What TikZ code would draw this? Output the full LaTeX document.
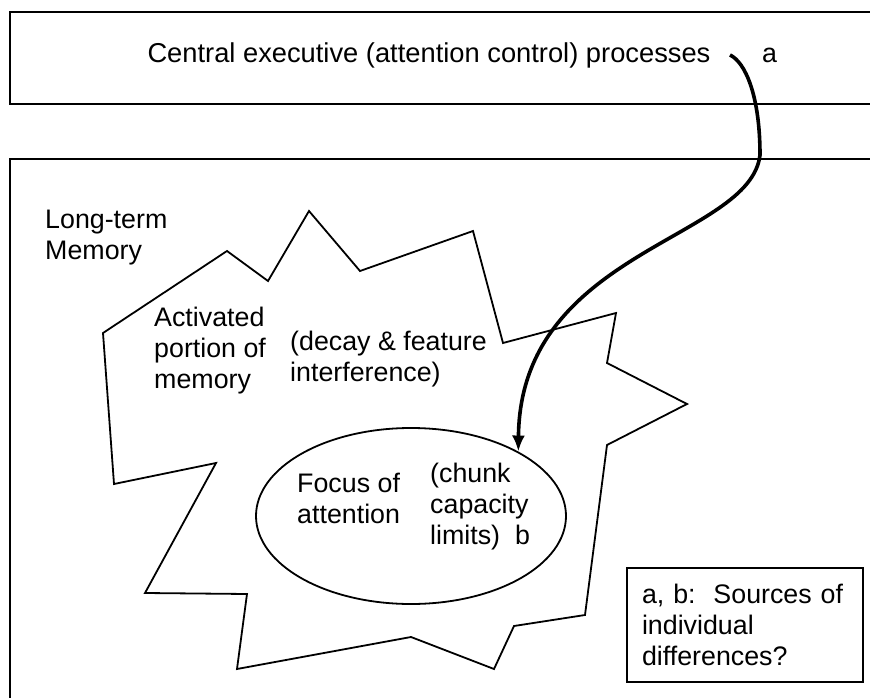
\documentclass[tikz,border=0pt]{standalone}
\usepackage{fontspec}
\setmainfont{Liberation Sans}
\usetikzlibrary{shapes.geometric,arrows.meta}
\begin{document}
\begin{tikzpicture}[x=1pt,y=-1pt,
  txt/.style={font=\fontsize{26.8}{31}\selectfont, inner sep=0pt, align=left, anchor=base west},
  frame/.style={line width=2pt},
  outline/.style={line width=1.8pt, line join=miter},
  ctrl/.style={line width=3.6pt, -{Latex[length=16pt,width=13pt]}}
]
\useasboundingbox (0,0) rectangle (870,698);
\clip (0,0) rectangle (870,698);
\fill[white] (0,0) rectangle (870,698);

% boxes
\draw[frame] (10,12) rectangle (885,104);
\draw[frame] (10,159) rectangle (885,712);

% activated portion (jagged outline)
\draw[outline] (103,333) -- (227,251) -- (268,281) -- (309,211) -- (360,271)
  -- (473,231) -- (503,343) -- (616,313) -- (607,363) -- (687,404)
  -- (607,445) -- (585,615) -- (514,626) -- (494,669) -- (411,637)
  -- (237,669) -- (247,594) -- (145,593) -- (216,463) -- (114,484) -- cycle;

% focus of attention
\node[ellipse, draw, outline, minimum width=310pt, minimum height=176pt, inner sep=0pt] (focus) at (411,516) {};

% texts (anchor = baseline of the last line)
\node[txt, font=\fontsize{27.3}{31}\selectfont, anchor=base] (ce) at (429,63) {Central executive (attention control) processes};
\node[txt] (alabel) at (762,63) {a};
\node[txt] (ltm) at (45,259) {Long-term\\Memory};
\node[txt] (act) at (154,388) {Activated\\portion of\\memory};
\node[txt] (decay) at (290,381) {(decay \& feature\\interference)};
\node[txt] (foc) at (297,523) {Focus of\\attention};
\node[txt] (chunk) at (430,544) {(chunk\\capacity\\limits)\ \ b};

\node[draw, frame, minimum width=236pt, minimum height=114pt, inner xsep=15pt, inner ysep=0pt,
      text width=206pt, align=left, font=\fontsize{26.8}{31}\selectfont] (src) at (745,625)
      {a, b:\ \ Sources of\\individual\\differences?};

% control arrow
\coordinate (astart) at (730,55);
\draw[ctrl] (astart) .. controls (745,62) and (760,95) .. (760,155)
  .. controls (750,240) and (520,250) .. (focus.31);
\end{tikzpicture}
\end{document}
